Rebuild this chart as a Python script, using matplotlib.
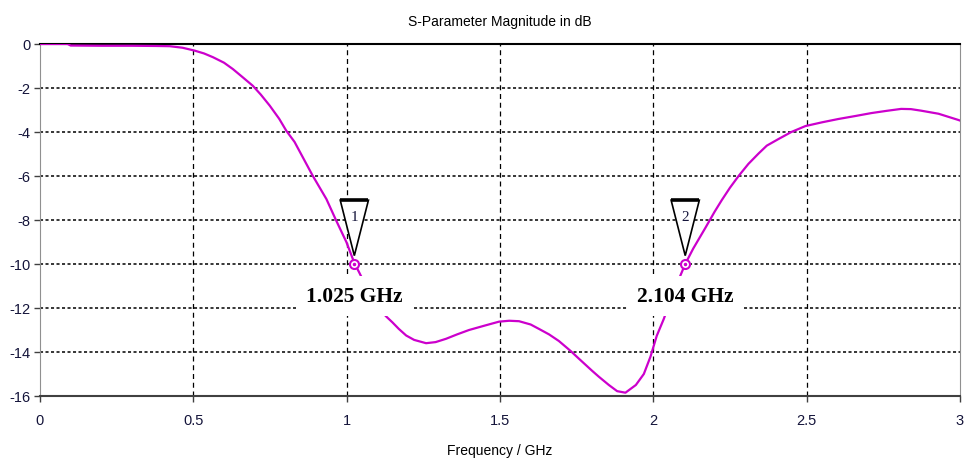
import matplotlib
matplotlib.use("Agg")
import matplotlib.pyplot as plt
from matplotlib.patches import Polygon

plt.rcParams["axes.unicode_minus"] = False

# S11 magnitude (GHz, dB)
freq_ghz = [0.0, 0.09, 0.10, 0.20, 0.30, 0.38, 0.423, 0.465, 0.504, 0.535,
            0.564, 0.60, 0.629, 0.66, 0.694, 0.72, 0.749, 0.78, 0.803, 0.83,
            0.857, 0.889, 0.934, 0.966, 0.999, 1.025, 1.04, 1.07, 1.09, 1.116,
            1.13, 1.149, 1.17, 1.194, 1.22, 1.259, 1.29, 1.324, 1.36, 1.399,
            1.45, 1.497, 1.53, 1.562, 1.60, 1.627, 1.66, 1.692, 1.73, 1.757,
            1.80, 1.822, 1.855, 1.882, 1.909, 1.943, 1.969, 1.991, 2.011,
            2.034, 2.06, 2.08, 2.104, 2.13, 2.17, 2.20, 2.223, 2.25, 2.278,
            2.31, 2.343, 2.37, 2.408, 2.45, 2.496, 2.55, 2.603, 2.66, 2.711,
            2.76, 2.808, 2.84, 2.873, 2.93, 2.994, 3.0]
s11_db = [0.0, 0.0, -0.07, -0.08, -0.08, -0.09, -0.1, -0.17, -0.3, -0.43,
          -0.6, -0.85, -1.14, -1.5, -1.9, -2.3, -2.8, -3.4, -3.94, -4.45,
          -5.15, -5.98, -7.05, -8.03, -9.0, -9.95, -10.36, -11.2, -11.7, -12.2,
          -12.4, -12.65, -12.95, -13.25, -13.45, -13.6, -13.55, -13.4, -13.2,
          -13.0, -12.8, -12.62, -12.58, -12.6, -12.75, -12.95, -13.2, -13.5,
          -13.95, -14.3, -14.85, -15.12, -15.5, -15.78, -15.85, -15.5, -15.0,
          -14.2, -13.27, -12.5, -11.5, -10.8, -10.0, -9.3, -8.35, -7.62, -7.1,
          -6.53, -6.0, -5.45, -4.98, -4.62, -4.32, -4.0, -3.73, -3.56, -3.41,
          -3.27, -3.14, -3.04, -2.95, -2.96, -3.03, -3.17, -3.45, -3.48]

marker_freqs = [1.025, 2.104]
marker_vals = [-10.0, -10.0]
marker_ids = ["1", "2"]

x_ticks = [0, 0.5, 1, 1.5, 2, 2.5, 3]
x_tick_labels = ["0", "0.5", "1", "1.5", "2", "2.5", "3"]
y_ticks = [0, -2, -4, -6, -8, -10, -12, -14, -16]

CURVE = "#cc00cc"
TXT = "#14143a"

fig = plt.figure(figsize=(9.64, 4.64), dpi=100)
ax = fig.add_axes([40 / 964, 1 - 397 / 464, 920 / 964, 352 / 464])

ax.set_xlim(0, 3)
ax.set_ylim(-16, 0)

# grid: vertical dashed, horizontal dotted
for xv in x_ticks[1:-1]:
    ax.axvline(xv, color="black", lw=0.9, ls=(0, (4, 3)), zorder=1)
for yv in y_ticks[1:-1]:
    ax.axhline(yv, color="black", lw=1.1, ls=(0, (2, 1.6)), zorder=1)

ax.plot(freq_ghz, s11_db, color=CURVE, lw=1.6, zorder=3,
        solid_joinstyle="round")

for f, v, mid in zip(marker_freqs, marker_vals, marker_ids):
    # small ring marker on the curve
    ax.plot(f, v, marker="o", ms=6.5, mfc="white", mec=CURVE, mew=1.5, zorder=6)
    ax.plot(f, v, marker="o", ms=1.5, color=CURVE, zorder=7)
    # triangle flag above the marker
    hw = 0.046
    tri = Polygon([(f - hw, -7.1), (f + hw, -7.1), (f, v + 0.38)], closed=True,
                  facecolor="white", edgecolor="black", lw=1.2, zorder=5)
    ax.add_patch(tri)
    ax.plot([f - hw, f + hw], [-7.1, -7.1], color="black", lw=2.6,
            solid_capstyle="butt", zorder=6)
    ax.text(f, -7.85, mid, ha="center", va="center", fontsize=11,
            family="Liberation Serif", color=TXT, zorder=7)
    ax.annotate(f"{f:.3f} GHz", xy=(f, v), xytext=(0, -23), textcoords="offset points",
                ha="center", va="center", fontsize=15.5, fontweight="bold",
                family="Liberation Serif", color="black", zorder=8,
                bbox=dict(boxstyle="square,pad=0.45", fc="white", ec="none"))

ax.set_xticks(x_ticks)
ax.set_xticklabels(x_tick_labels)
ax.set_yticks(y_ticks)
ax.tick_params(direction="out", length=4, width=1, color="#404040",
               labelsize=10.5, labelcolor=TXT)
ax.tick_params(axis="x", pad=8)
ax.tick_params(axis="y", pad=3)
for lab in ax.get_xticklabels() + ax.get_yticklabels():
    lab.set_family("Liberation Sans")

ax.spines["top"].set_color("black")
ax.spines["top"].set_linewidth(1.5)
ax.spines["bottom"].set_color("#404040")
ax.spines["bottom"].set_linewidth(1.5)
ax.spines["left"].set_color("#909090")
ax.spines["right"].set_color("#909090")

ax.set_title("S-Parameter Magnitude in dB", fontsize=10, family="Liberation Sans",
             color="black", pad=14)
ax.set_xlabel("Frequency / GHz", fontsize=10, family="Liberation Sans",
              color="black", labelpad=12)

fig.savefig("out.png", dpi=100)
